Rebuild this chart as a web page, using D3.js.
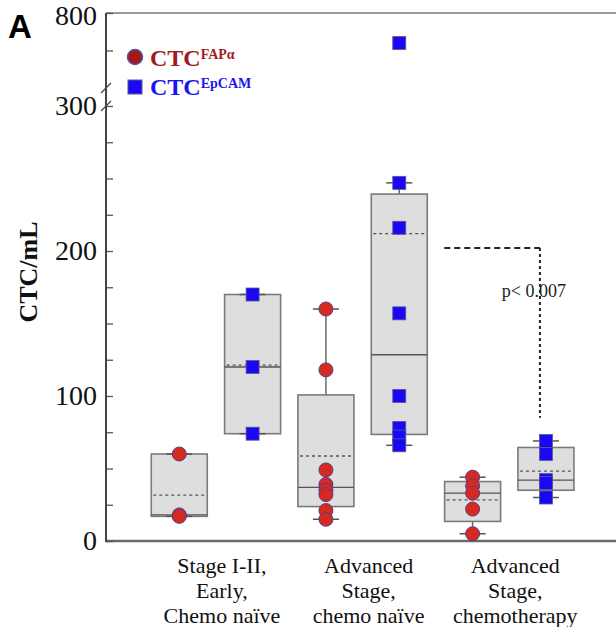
<!DOCTYPE html>
<html>
<head>
<meta charset="utf-8">
<script src="https://cdn.jsdelivr.net/npm/d3@7/dist/d3.min.js"></script>
<style>
  body { margin: 0; background: #fff; }
  svg { display: block; }
</style>
</head>
<body>
<div id="chart"></div>
<script>
// values
const groupLabels = [
  ['Stage I-II,', 'Early,', 'Chemo naïve'],
  ['Advanced', 'Stage,', 'chemo naïve'],
  ['Advanced', 'Stage,', 'chemotherapy']
];
const series = ['FAPα', 'EpCAM'];
const fapValues = [
  [60, 18, 17],
  [160, 118, 49, 39, 35, 32, 21, 15],
  [44, 38, 33, 22, 5]
];
const epcamValues = [
  [170, 120, 74],
  [760, 247, 216, 157, 100, 78, 72, 66],
  [69, 60, 42, 40, 30]
];
const lowerTicks = [0, 25, 50, 75, 100, 125, 150, 175, 200, 225, 250, 275, 300];
const lowerLabels = [0, 100, 200, 300];
const upperTicks = [750, 800];
const upperLabels = [800];
const pText = 'p< 0.007';
const pLevels = [202, 85];   // bracket top, bracket bottom (CTC/mL)

const width = 616;
const height = 627;
const serif = "'Liberation Serif', 'Times New Roman', serif";

const div = d3.select('#chart');
div.html('');
const svg = div.append('svg')
  .attr('width', width)
  .attr('height', height);

// broken y axis: 0-300 below, 700-800 above
const yLow = d3.scaleLinear().domain([0, 300]).range([541, 106]);
const yHigh = d3.scaleLinear().domain([700, 800]).range([88, 13]);
const y = v => (v <= 300 ? yLow(v) : yHigh(v));

const x0 = d3.scaleBand().domain(d3.range(groupLabels.length)).range([142.6, 582.6]);
const x1 = d3.scaleBand().domain(series).range([0, x0.bandwidth()]);
const cx = (i, s) => x0(i) + x1(s) + x1.bandwidth() / 2;
const boxW = 56;

// quantile like SigmaPlot (p*(n+1))
function quant(sorted, p) {
  const n = sorted.length;
  const h = (n + 1) * p - 1;
  const lo = Math.floor(h);
  if (lo < 0) return sorted[0];
  if (lo >= n - 1) return sorted[n - 1];
  return sorted[lo] + (h - lo) * (sorted[lo + 1] - sorted[lo]);
}

function stats(values) {
  const s = values.slice().sort(d3.ascending);
  const q1 = quant(s, 0.25), q3 = quant(s, 0.75);
  const iqr = q3 - q1;
  return {
    q1: q1, q3: q3,
    med: quant(s, 0.5),
    mean: d3.mean(s),
    lo: d3.min(s.filter(v => v >= q1 - 1.5 * iqr)),
    hi: d3.max(s.filter(v => v <= q3 + 1.5 * iqr))
  };
}

// frame
svg.append('line')
  .attr('x1', 106).attr('x2', width).attr('y1', 13).attr('y2', 13)
  .attr('stroke', '#9a9a9a').attr('stroke-width', 2);
svg.append('line')
  .attr('x1', 106).attr('x2', width).attr('y1', 541).attr('y2', 541)
  .attr('stroke', '#6a6a6a').attr('stroke-width', 2.5);

// axes
const axLow = svg.append('g')
  .attr('transform', 'translate(106,0)')
  .call(d3.axisLeft(yLow).tickValues(lowerTicks).tickSize(-7).tickPadding(9)
    .tickFormat(d => (lowerLabels.includes(d) ? d : '')));
const axHigh = svg.append('g')
  .attr('transform', 'translate(106,0)')
  .call(d3.axisLeft(yHigh).tickValues(upperTicks).tickSize(-7).tickPadding(9)
    .tickFormat(d => (upperLabels.includes(d) ? d : '')));
[axLow, axHigh].forEach(ax => {
  ax.select('.domain').remove();
  ax.selectAll('.tick line').attr('stroke', '#555').attr('stroke-width', 1.3);
  ax.selectAll('.tick text')
    .style('font-family', serif)
    .style('font-size', '28px')
    .attr('fill', '#111');
});
axHigh.selectAll('.tick text').attr('dy', '0.42em');

svg.append('line')
  .attr('x1', 106).attr('x2', 106).attr('y1', 13).attr('y2', 542)
  .attr('stroke', '#444').attr('stroke-width', 2);

// break marks
[yHigh(700), yLow(300)].forEach(by => {
  svg.append('line')
    .attr('x1', 101).attr('x2', 111)
    .attr('y1', by + 5).attr('y2', by - 5)
    .attr('stroke', '#444').attr('stroke-width', 1.3);
});

// y label
svg.append('text')
  .attr('transform', 'translate(37,272) rotate(-90)')
  .style('font-family', serif)
  .style('font-size', '26px')
  .style('font-weight', 'bold')
  .style('text-anchor', 'middle')
  .attr('fill', '#111')
  .text('CTC/mL');

// panel letter
svg.append('text')
  .attr('x', 8).attr('y', 38)
  .style('font-family', "'Liberation Sans', Arial, sans-serif")
  .style('font-size', '33px')
  .style('font-weight', 'bold')
  .attr('fill', '#000')
  .text('A');

// boxes
const allSeries = [fapValues, epcamValues];
const boxes = svg.append('g');
const marks = svg.append('g');

allSeries.forEach((vals, si) => {
  const s = series[si];
  vals.forEach((v, i) => {
    const st = stats(v);
    const c = cx(i, s);
    const g = boxes.append('g');
    // whiskers
    g.append('line')
      .attr('x1', c).attr('x2', c).attr('y1', y(st.q3)).attr('y2', y(st.hi))
      .attr('stroke', '#6a6a6a').attr('stroke-width', 1.5);
    g.append('line')
      .attr('x1', c).attr('x2', c).attr('y1', y(st.q1)).attr('y2', y(st.lo))
      .attr('stroke', '#6a6a6a').attr('stroke-width', 1.5);
    g.append('rect')
      .attr('x', c - boxW / 2).attr('width', boxW)
      .attr('y', y(st.q3)).attr('height', y(st.q1) - y(st.q3))
      .attr('fill', '#dedede')
      .attr('stroke', '#7a7a7a').attr('stroke-width', 1.6);
    // median
    g.append('line')
      .attr('x1', c - boxW / 2).attr('x2', c + boxW / 2)
      .attr('y1', y(st.med)).attr('y2', y(st.med))
      .attr('stroke', '#555').attr('stroke-width', 1.4);
    // mean
    g.append('line')
      .attr('x1', c - boxW / 2 + 2).attr('x2', c + boxW / 2 - 2)
      .attr('y1', y(st.mean)).attr('y2', y(st.mean))
      .attr('stroke', '#555').attr('stroke-width', 1.3)
      .attr('stroke-dasharray', '3,3');
    // caps
    [st.hi, st.lo].forEach(w => {
      g.append('line')
        .attr('x1', c - 13).attr('x2', c + 13)
        .attr('y1', y(w)).attr('y2', y(w))
        .attr('stroke', '#555').attr('stroke-width', 1.5);
    });
    // points
    v.forEach(d => {
      if (si === 0) {
        marks.append('circle')
          .attr('cx', c).attr('cy', y(d)).attr('r', 7)
          .attr('fill', '#d42a1f')
          .attr('stroke', '#5b3a8c').attr('stroke-width', 1);
      } else {
        marks.append('rect')
          .attr('x', c - 6.5).attr('y', y(d) - 6.5)
          .attr('width', 13).attr('height', 13)
          .attr('fill', '#1a08f5')
          .attr('stroke', '#5a5a8a').attr('stroke-width', 0.8);
      }
    });
  });
});

// significance bracket
const bx1 = cx(1, 'EpCAM') + boxW / 2 + 17;
const bx2 = cx(2, 'EpCAM') - 6;
svg.append('line')
  .attr('x1', bx1).attr('x2', bx2)
  .attr('y1', y(pLevels[0])).attr('y2', y(pLevels[0]))
  .attr('stroke', '#222').attr('stroke-width', 2)
  .attr('stroke-dasharray', '6,4');
svg.append('line')
  .attr('x1', bx2).attr('x2', bx2)
  .attr('y1', y(pLevels[0])).attr('y2', y(pLevels[1]))
  .attr('stroke', '#222').attr('stroke-width', 2)
  .attr('stroke-dasharray', '3,3');
svg.append('text')
  .attr('x', bx2 - 6).attr('y', 297)
  .style('font-family', serif)
  .style('font-size', '18px')
  .style('text-anchor', 'middle')
  .attr('fill', '#222')
  .text(pText);

// category labels
groupLabels.forEach((lines, i) => {
  const t = svg.append('text')
    .attr('x', x0(i) + x0.bandwidth() / 2 + 6)
    .attr('y', 573)
    .style('font-family', serif)
    .style('font-size', '22px')
    .style('text-anchor', 'middle')
    .attr('fill', '#111');
  lines.forEach((ln, k) => {
    t.append('tspan')
      .attr('x', x0(i) + x0.bandwidth() / 2 + 6)
      .attr('dy', k === 0 ? 0 : 25)
      .text(ln);
  });
});

// legend
const legend = svg.append('g');
legend.append('circle')
  .attr('cx', 135).attr('cy', 57).attr('r', 7.5)
  .attr('fill', '#a8161a')
  .attr('stroke', '#4a5a9a').attr('stroke-width', 1.5);
legend.append('rect')
  .attr('x', 128).attr('y', 80).attr('width', 14).attr('height', 14)
  .attr('fill', '#1a08f5')
  .attr('stroke', '#5a5a8a').attr('stroke-width', 1);
const legColors = ['#a31a1c', '#1a14f0'];
const legY = [66, 95];
series.forEach((s, k) => {
  const t = legend.append('text')
    .attr('x', 150).attr('y', legY[k])
    .style('font-family', serif)
    .style('font-weight', 'bold')
    .attr('fill', legColors[k]);
  t.append('tspan').style('font-size', '24px').text('CTC');
  t.append('tspan').style('font-size', '14px').attr('dy', -7).text(s);
});
</script>
</body>
</html>
